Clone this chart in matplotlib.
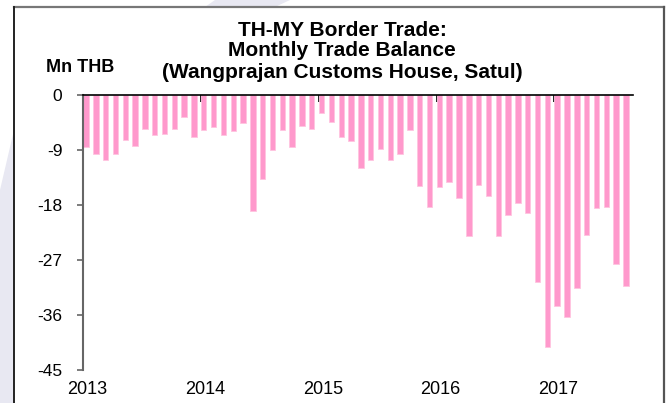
import numpy as np
import matplotlib
matplotlib.use("Agg")
import matplotlib.pyplot as plt

plt.rcParams['font.family'] = ['Liberation Sans', 'DejaVu Sans']

# monthly trade balance, Mn THB, Jan 2013 .. Aug 2017
bal_2013 = [-8.5, -9.7, -10.6, -9.6, -7.4, -8.4, -5.6, -6.5, -6.3, -5.6, -3.6, -6.9]
bal_2014 = [-5.8, -5.3, -6.6, -5.9, -4.6, -19.0, -13.8, -9.0, -5.7, -8.5, -5.0, -5.6]
bal_2015 = [-3.0, -4.4, -6.9, -7.6, -11.9, -10.7, -8.8, -10.7, -9.7, -5.7, -14.9, -18.4]
bal_2016 = [-15.1, -14.3, -16.8, -23.1, -14.7, -16.5, -23.0, -19.7, -17.6, -19.3, -30.6, -41.3]
bal_2017 = [-34.5, -36.4, -31.5, -22.9, -18.5, -18.4, -27.6, -31.2]

years = ['2013', '2014', '2015', '2016', '2017']
yticks = [0, -9, -18, -27, -36, -45]

balance = bal_2013 + bal_2014 + bal_2015 + bal_2016 + bal_2017
months = np.arange(len(balance))

W, H = 672.0, 403.0
fig = plt.figure(figsize=(6.72, 4.03), dpi=100)

# background layer in pixel coordinates: faint shapes + white panel frame
bg = fig.add_axes([0, 0, 1, 1], zorder=-1)
bg.set_xlim(0, W)
bg.set_ylim(H, 0)
bg.axis('off')
bg.fill([0, 14, 14, 0], [190, 130, H, H], color='#e8e8f2', lw=0)
bg.fill([205, 215, 290, 275], [7, 0, 0, 7], color='#e8e8f2', lw=0)
bg.fill([14, 664, 664, 14], [7, 7, H, H], color='white', lw=0)
bg.plot([14, 664], [7, 7], color='#777777', lw=1.6)
bg.plot([14, 14], [7, H], color='#222222', lw=1.4)
bg.plot([664, 664], [7, H], color='#555555', lw=1.6)

ax = fig.add_axes([83.3/W, 1 - 370/H, (633 - 83.3)/W, (370 - 95)/H])
ax.patch.set_alpha(0)

ax.bar(months, balance, width=0.55, align='edge', color='#ff99cc',
       edgecolor='#ffc4e0', linewidth=0.6, zorder=2)

ax.set_xlim(0, len(balance))
ax.set_ylim(-45, 0)

for s in ['right', 'bottom']:
    ax.spines[s].set_visible(False)
ax.spines['top'].set_color('black')
ax.spines['top'].set_linewidth(1.2)
ax.spines['top'].set_zorder(3)
ax.spines['left'].set_color('#666666')
ax.spines['left'].set_linewidth(1.5)

ax.set_yticks(yticks)
ax.set_yticklabels([str(v) for v in yticks])
ax.tick_params(axis='y', direction='out', length=4, width=1.2, color='#666666',
               pad=11, labelsize=12.5)

# year boundaries as small marks on the zero line, labels at the bottom
ax.set_xticks(np.arange(0, len(balance), 12) + 0.4)
ax.set_xticklabels(years)
ax.set_xticks(np.arange(12, len(balance), 12), minor=True)
ax.tick_params(axis='x', which='major', length=0, pad=8, labelsize=13)
ax.tick_params(axis='x', which='minor', bottom=False, top=True, direction='in',
               length=5, width=1.2, color='black')

fig.text(342/W, 1 - 31/H, 'TH-MY Border Trade:', ha='center', va='center',
         fontsize=15, fontweight='bold')
fig.text(342/W, 1 - 51/H, 'Monthly Trade Balance', ha='center', va='center',
         fontsize=15, fontweight='bold')
fig.text(342/W, 1 - 72/H, '(Wangprajan Customs House, Satul)', ha='center', va='center',
         fontsize=15, fontweight='bold')
fig.text(80/W, 1 - 67/H, 'Mn THB', ha='center', va='center',
         fontsize=13, fontweight='bold')

fig.savefig('out.png', dpi=100)
